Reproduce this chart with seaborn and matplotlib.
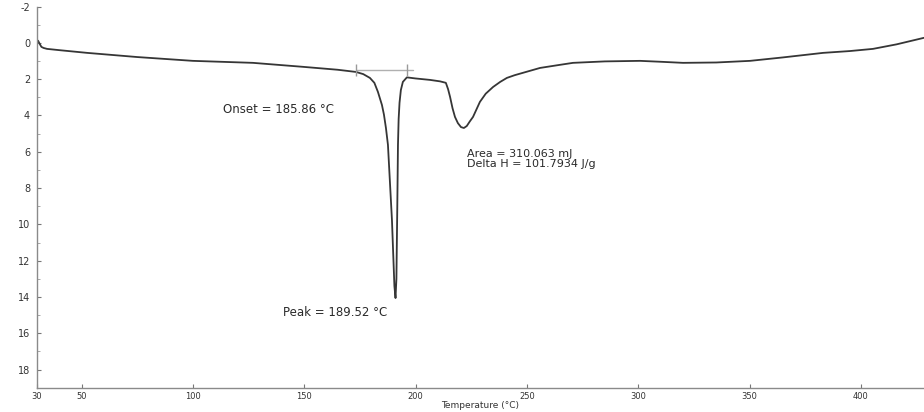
import matplotlib
matplotlib.use("Agg")
import matplotlib.pyplot as plt
import seaborn as sns
import numpy as np
import pandas as pd

# DSC curve (temperature in degC, heat flow, axis inverted)
temperature = [30.0, 30.5, 31.2, 32.0, 33.0, 34.5, 40.0, 52.5, 75.0, 100.0, 127.0,
               149.5, 165.0, 173.2, 176.5, 179.5, 181.5, 183.1, 184.9, 185.8, 186.7,
               187.6, 189.4, 190.5, 191.0, 191.4, 191.8, 192.1, 192.4, 192.8, 193.4,
               194.3, 196.1, 200.0, 206.5, 211.0, 213.6, 214.6, 215.5, 216.6, 217.7,
               219.0, 220.4, 221.7, 223.0, 224.4, 225.8, 228.9, 231.5, 234.8, 238.0,
               241.0, 244.5, 248.2, 255.9, 264.8, 270.7, 285.0, 300.8, 310.0, 320.1,
               335.0, 350.2, 365.0, 383.0, 395.0, 405.4, 416.0, 428.3]
heat_flow = [0.0, -0.12, 0.05, 0.22, 0.28, 0.33, 0.40, 0.55, 0.78, 0.99, 1.10,
             1.32, 1.48, 1.60, 1.72, 1.93, 2.20, 2.70, 3.42, 3.95, 4.69,
             5.62, 9.76, 13.4, 14.06, 13.0, 9.0, 5.62, 4.20, 3.30, 2.60,
             2.15, 1.90, 1.96, 2.04, 2.12, 2.20, 2.55, 2.98, 3.60, 4.08,
             4.42, 4.64, 4.69, 4.58, 4.32, 4.08, 3.25, 2.80, 2.43, 2.15,
             1.93, 1.78, 1.65, 1.38, 1.21, 1.10, 1.02, 0.99, 1.04, 1.10,
             1.08, 0.99, 0.80, 0.55, 0.45, 0.33, 0.08, -0.28]

# integration baseline and its end markers
baseline_T = [173.2, 198.8]
baseline_val = [1.49, 1.49]
marker_T = [173.2, 196.1]
marker_val = [1.49, 1.49]

x_ticks = [30, 50, 100, 150, 200, 250, 300, 350, 400]
y_ticks = [-2, 0, 2, 4, 6, 8, 10, 12, 14, 16, 18]

onset_text = "Onset = 185.86 \u00b0C"
peak_text = "Peak = 189.52 \u00b0C"
area_text = "Area = 310.063 mJ\nDelta H = 101.7934 J/g"
x_label = "Temperature (\u00b0C)"

sns.set_theme(style="white")
plt.rcParams['font.family'] = ['DejaVu Sans']
plt.rcParams['axes.unicode_minus'] = False

fig = plt.figure(figsize=(9.24, 4.12), dpi=100)
ax = fig.add_axes([0.040, 0.059, 0.960, 0.925])

df = pd.DataFrame({"T": temperature, "H": heat_flow})
sns.lineplot(data=df, x="T", y="H", ax=ax, color="#363636", linewidth=1.3,
             sort=False, estimator=None)

ax.plot(baseline_T, baseline_val, color="#b0b0b0", linewidth=1.0, zorder=1)
ax.plot(marker_T, marker_val, linestyle="none", marker="|", markersize=9,
        markeredgewidth=1.0, color="#9a9a9a")

ax.set_xlim(30, 428.3)
ax.set_ylim(19, -2)
ax.set_xticks(x_ticks)
ax.set_yticks(y_ticks)
ax.set_yticks(np.arange(-1, 19, 2), minor=True)
ax.tick_params(axis="both", which="major", direction="in", length=3, width=0.8,
               color="#777777", labelcolor="#333333")
ax.tick_params(axis="y", which="minor", direction="in", length=2, width=0.6,
               color="#999999", left=True)
ax.tick_params(axis="x", labelsize=6, pad=3, bottom=True)
ax.tick_params(axis="y", labelsize=7, pad=5, left=True)

for s in ["top", "right"]:
    ax.spines[s].set_visible(False)
for s in ["left", "bottom"]:
    ax.spines[s].set_color("#8a8a8a")
    ax.spines[s].set_linewidth(1.0)

ax.set_xlabel(x_label, fontsize=6.5, labelpad=0, color="#333333")
ax.set_ylabel("")

txt = dict(fontsize=8.5, color="#2a2a2a", ha="left", va="center")
ax.text(113.5, 3.69, onset_text, **txt)
ax.text(223.1, 6.42, area_text, fontsize=8, color="#2a2a2a", ha="left",
        va="center", linespacing=1.0)
ax.text(140.5, 14.83, peak_text, **txt)

fig.savefig("out.png", dpi=100, facecolor="white")
